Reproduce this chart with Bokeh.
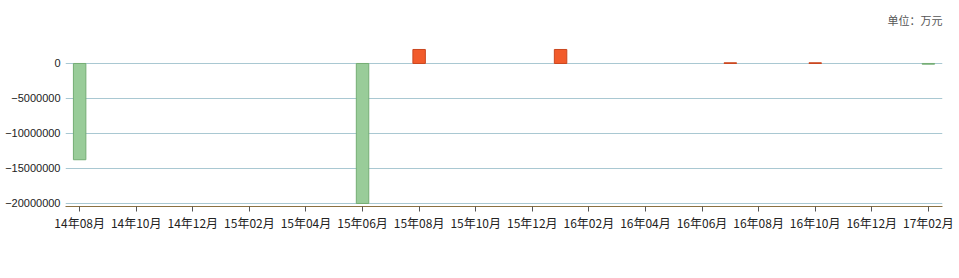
from bokeh.plotting import figure
from bokeh.models import (Range1d, FixedTicker, Legend, LegendItem, Title,
                          BasicTickFormatter, ColumnDataSource)
from bokeh.embed import file_html
from bokeh.resources import INLINE

# Month axis (one slot per month), labels shown every second month
months = ["14年08月", "14年09月", "14年10月", "14年11月", "14年12月", "15年01月",
          "15年02月", "15年03月", "15年04月", "15年05月", "15年06月", "15年07月",
          "15年08月", "15年09月", "15年10月", "15年11月", "15年12月", "16年01月",
          "16年02月", "16年03月", "16年04月", "16年05月", "16年06月", "16年07月",
          "16年08月", "16年09月", "16年10月", "16年11月", "16年12月", "17年01月",
          "17年02月"]

# Holdings increases (万元)
increase_months = ["15年08月", "16年01月", "16年07月", "16年10月"]
increase_values = [2000000, 2000000, 100000, 100000]

# Holdings decreases (万元)
decrease_months = ["14年08月", "15年06月", "17年02月"]
decrease_values = [-13750000, -20000000, -100000]

y_ticks = [0, -5000000, -10000000, -15000000, -20000000]

FONT = "Noto Sans CJK SC"
NUM_FONT = "Liberation Sans"
INC_COLOR = "#F25B2B"
INC_LINE = "#C9461F"
DEC_COLOR = "#99CC99"
DEC_LINE = "#74AD74"

p = figure(frame_width=877, frame_height=172, output_backend="svg",
           toolbar_location=None,
           x_range=Range1d(-0.5, 30.5), y_range=Range1d(-20430000, 4140000),
           min_border_left=65, min_border_right=17, min_border_top=34,
           min_border_bottom=0)
p.outline_line_color = None
p.background_fill_color = "white"

# unit note above the top-right corner of the frame
p.add_layout(Title(text="单位：万元", align="right", vertical_align="top",
                   standoff=10, offset=0,
                   text_font=FONT, text_font_size="11px",
                   text_font_style="normal", text_color="#555555"), "above")

inc_src = ColumnDataSource(dict(x=[months.index(m) for m in increase_months],
                                top=increase_values))
dec_src = ColumnDataSource(dict(x=[months.index(m) for m in decrease_months],
                                top=decrease_values))

r_inc = p.vbar(x="x", top="top", bottom=0, width=0.44, source=inc_src,
               fill_color=INC_COLOR, line_color=INC_LINE, line_width=1)
r_dec = p.vbar(x="x", top="top", bottom=0, width=0.44, source=dec_src,
               fill_color=DEC_COLOR, line_color=DEC_LINE, line_width=1)

# x axis
xa = p.xaxis[0]
xa.ticker = FixedTicker(ticks=list(range(0, 31, 2)))
xa.major_label_overrides = {i: months[i] for i in range(0, 31, 2)}
xa.axis_line_color = "#8B7142"
xa.axis_line_width = 1
xa.major_tick_line_color = "#555555"
xa.major_tick_in = 0
xa.major_tick_out = 5
xa.minor_tick_line_color = None
xa.major_label_text_font = FONT
xa.major_label_text_font_size = "12px"
xa.major_label_text_color = "#222222"
xa.major_label_standoff = 2
xa.axis_label_standoff = 0

# y axis
ya = p.yaxis[0]
ya.ticker = FixedTicker(ticks=y_ticks)
ya.formatter = BasicTickFormatter(use_scientific=False)
ya.axis_line_color = None
ya.major_tick_line_color = None
ya.major_tick_in = 0
ya.major_tick_out = 0
ya.minor_tick_line_color = None
ya.minor_tick_in = 0
ya.minor_tick_out = 0
ya.major_label_text_font = NUM_FONT
ya.major_label_text_font_size = "11px"
ya.major_label_text_color = "#222222"
ya.major_label_standoff = 5
ya.axis_label_standoff = 0

p.xgrid.grid_line_color = None
p.ygrid.ticker = FixedTicker(ticks=y_ticks)
p.ygrid.grid_line_color = "#A9C8D2"
p.ygrid.grid_line_width = 1

# legend in the panel under the x axis
legend = Legend(items=[LegendItem(label="增持", renderers=[r_inc]),
                       LegendItem(label="减持", renderers=[r_dec])],
                orientation="horizontal", location=(361, 0),
                label_text_font=FONT, label_text_font_size="12px",
                label_text_color="#222222", glyph_width=18, glyph_height=14,
                spacing=18, padding=0, margin=0, border_line_color=None,
                background_fill_alpha=0, label_standoff=5, label_height=14)
p.add_layout(legend, "below")

open("out.html", "w").write(file_html(p, INLINE))
